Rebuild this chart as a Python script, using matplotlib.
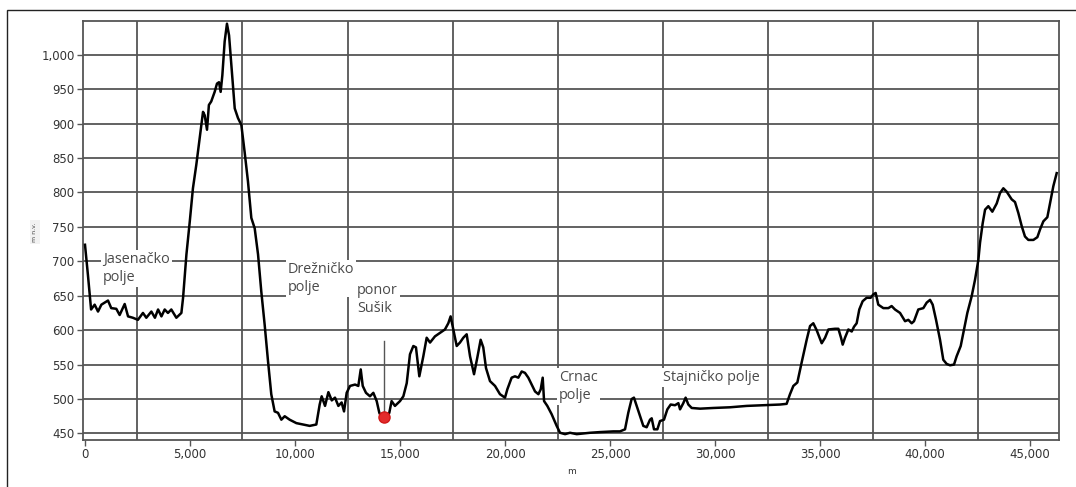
import matplotlib
matplotlib.use("Agg")
import matplotlib.pyplot as plt
from matplotlib.ticker import FuncFormatter, FixedLocator
from matplotlib.patches import Rectangle

# distance along profile (m)
distance = [0, 140, 250, 290, 460, 620, 780, 1095, 1250, 1490, 1650, 1890, 2050, 2280, 2520,
            2760, 2920, 3160, 3330, 3480, 3640, 3795, 3950, 4110, 4350, 4590, 4670, 4830, 4990,
            5140, 5300, 5460, 5620, 5700, 5810, 5900, 6010, 6175, 6285, 6380, 6460, 6540, 6650,
            6760, 6860, 6970, 7130, 7285, 7445, 7600, 7760, 7920, 8080, 8240, 8395, 8555, 8715,
            8870, 9030, 9190, 9350, 9510, 9745, 10065, 10380, 10700, 11015, 11175, 11270, 11430,
            11590, 11750, 11905, 12065, 12220, 12335, 12460, 12620, 12860, 13015, 13130, 13225,
            13380, 13570, 13730, 13890, 14015, 14130, 14365, 14490, 14600, 14760, 15000, 15160,
            15320, 15475, 15635, 15760, 15920, 16110, 16270, 16430, 16665, 16905, 17140, 17300,
            17410, 17540, 17700, 17855, 18015, 18175, 18335, 18525, 18680, 18840, 18965, 19095,
            19285, 19525, 19760, 20000, 20110, 20315, 20475, 20635, 20795, 20950, 21110, 21270,
            21430, 21590, 21700, 21795, 21860, 22015, 22220, 22460, 22620, 22860, 23095, 23415,
            23730, 24050, 24525, 25160, 25475, 25715, 25870, 26030, 26140, 26270, 26430, 26585,
            26745, 26905, 26985, 27095, 27255, 27380, 27570, 27730, 27890, 28095, 28255, 28335,
            28490, 28600, 28730, 28890, 29290, 29920, 30715, 31510, 32300, 33095, 33410, 33570,
            33730, 33920, 34125, 34365, 34525, 34680, 34840, 35080, 35240, 35400, 35715, 35875,
            36000, 36080, 36190, 36350, 36510, 36620, 36745, 36870, 37030, 37220, 37410, 37540,
            37650, 37775, 38015, 38255, 38410, 38570, 38810, 39050, 39205, 39365, 39475, 39680,
            39920, 40080, 40240, 40365, 40525, 40715, 40870, 41030, 41190, 41380, 41505, 41700,
            41855, 42015, 42220, 42380, 42540, 42620, 42745, 42860, 43015, 43205, 43415, 43570,
            43730, 43890, 44125, 44285, 44445, 44605, 44760, 44920, 45160, 45350, 45475, 45635,
            45825, 45950, 46110, 46270]

# elevation (m a.s.l.)
elevation = [724, 680, 642, 630, 637, 627, 637, 643, 632, 631, 622, 638, 620, 618, 615,
             625, 618, 627, 618, 630, 620, 630, 625, 630, 618, 625, 647, 710, 758,
             806, 840, 879, 917, 912, 891, 927, 932, 946, 958, 960, 946, 970, 1019,
             1045, 1028, 985, 922, 908, 898, 859, 816, 763, 748, 710, 656, 608, 555,
             507, 482, 480, 470, 475, 470, 465, 463, 461, 463, 492, 504, 490,
             510, 498, 502, 490, 495, 482, 509, 519, 521, 519, 543, 519,
             509, 504, 509, 497, 480, 473, 473, 480, 497, 490, 497, 504,
             523, 565, 577, 575, 533, 562, 589, 582, 591, 596, 601, 610,
             620, 601, 577, 582, 589, 594, 562, 536, 560, 586, 575, 545,
             526, 519, 507, 502, 514, 531, 533, 531, 540, 538, 531, 521,
             511, 507, 514, 531, 497, 490, 478, 461, 451, 449, 451, 449,
             450, 451, 452, 453, 453, 456, 480, 500, 502, 490, 475, 461,
             459, 470, 472, 456, 456, 468, 470, 485, 492, 491, 494, 485,
             494, 502, 492, 487, 486, 487, 488, 490, 491, 492, 493, 507,
             519, 524, 553, 586, 606, 610, 600, 581, 589, 601, 602, 602,
             589, 579, 589, 601, 598, 605, 610, 630, 642, 647, 647, 652,
             654, 637, 632, 632, 635, 630, 625, 613, 615, 610, 613, 630,
             632, 640, 644, 637, 615, 586, 557, 551, 549, 550, 562, 577,
             601, 625, 649, 673, 702, 727, 755, 775, 780, 772, 784, 799,
             806, 801, 790, 786, 770, 751, 736, 731, 731, 735, 746, 758,
             764, 784, 809, 828]

# annotated places
place_labels = ["Jasenačko\npolje", "Drežničko\npolje", "ponor\nSušik", "Crnac\npolje", "Stajničko polje"]
place_x = [860, 9650, 12950, 22560, 27520]
place_y = [714, 699, 669, 542, 542]

sinkhole_x = [14238]
sinkhole_y = [474]

x_ticks = [0, 5000, 10000, 15000, 20000, 25000, 30000, 35000, 40000, 45000]
x_grid = [2500, 7500, 12500, 17500, 22500, 27500, 32500, 37500, 42500]
y_ticks = [450, 500, 550, 600, 650, 700, 750, 800, 850, 900, 950, 1000]

W, H = 1076, 487
fig = plt.figure(figsize=(W / 100, H / 100), dpi=100)
fig.patch.set_facecolor("white")

# outer frame (left and top visible)
fig.add_artist(Rectangle((7 / W, -0.2), 1.3, 1.2 - 10 / H, transform=fig.transFigure,
                         fill=False, edgecolor="#222222", linewidth=1.0))

ax = fig.add_axes([83 / W, 1 - 440 / H, (1059 - 83) / W, (440 - 21) / H])
ax.set_xlim(-95, 46380)
ax.set_ylim(440.5, 1048.9)

grid_color = "#555555"
ax.xaxis.set_major_locator(FixedLocator(x_ticks))
ax.yaxis.set_major_locator(FixedLocator(y_ticks))
ax.xaxis.set_major_formatter(FuncFormatter(lambda v, p: f"{int(v):,}"))
ax.yaxis.set_major_formatter(FuncFormatter(lambda v, p: f"{int(v):,}"))

ax.grid(False)
for g in x_grid:
    ax.axvline(g, color=grid_color, linewidth=1.3, zorder=1)
for t in y_ticks:
    ax.axhline(t, color=grid_color, linewidth=1.3, zorder=1)

for s in ax.spines.values():
    s.set_color(grid_color)
    s.set_linewidth(1.3)

ax.tick_params(axis="both", which="major", direction="out", length=4, width=1.0,
               color=grid_color, labelsize=8.5, labelcolor="#333333", pad=2)

ax.plot(distance, elevation, color="black", linewidth=1.8, zorder=3, solid_joinstyle="round")

text_kw = dict(fontsize=10.4, color="#4a4a4a", family=["Open Sans", "DejaVu Sans"],
               ha="left", va="top", linespacing=1.3, zorder=2,
               bbox=dict(facecolor="white", edgecolor="none", pad=1.5))
for lab, xx, yy in zip(place_labels, place_x, place_y):
    ax.text(xx, yy, lab, **text_kw)

# leader line for ponor Sušik
ax.plot([sinkhole_x[0], sinkhole_x[0]], [584, sinkhole_y[0]], color="#555555", linewidth=1.0, zorder=2)
ax.plot(sinkhole_x, sinkhole_y, marker="o", markersize=8, color="#e32b2b", markeredgecolor="#d01818",
        linestyle="none", zorder=4)

ax.set_xlabel("m", fontsize=6.5, color="#333333", labelpad=4)
fig.text(35 / W, 1 - 232 / H, "m n.v.", rotation=90, fontsize=4.5, color="#444444",
         ha="center", va="center",
         bbox=dict(facecolor="#f2f2f2", edgecolor="none", pad=2))

fig.savefig("out.png", dpi=100, facecolor="white")
